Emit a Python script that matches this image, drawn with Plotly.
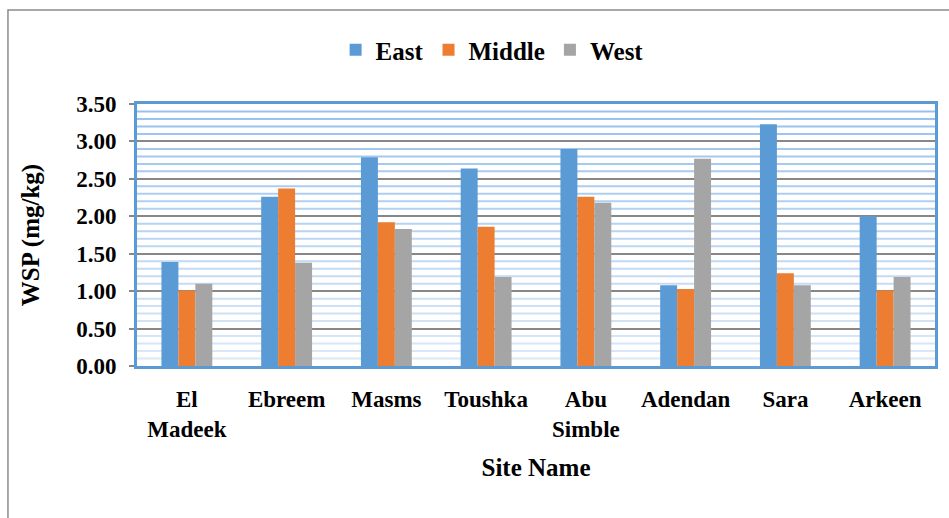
import plotly.graph_objects as go

sites = ["El<br>Madeek", "Ebreem", "Masms", "Toushka", "Abu<br>Simble", "Adendan", "Sara", "Arkeen"]
east = [1.39, 2.26, 2.79, 2.64, 2.90, 1.08, 3.23, 2.00]
middle = [1.01, 2.37, 1.92, 1.86, 2.26, 1.03, 1.24, 1.01]
west = [1.10, 1.38, 1.83, 1.19, 2.18, 2.77, 1.08, 1.19]

series = [("East", east, "#5b9bd5"), ("Middle", middle, "#ed7d31"), ("West", west, "#a5a5a5")]

FONT = "Liberation Serif"

fig = go.Figure()
for name, vals, col in series:
    fig.add_trace(go.Bar(name=name, x=sites, y=vals, marker=dict(color=col, line=dict(width=0))))

# light blue minor band lines (gradient: stronger near top)
shapes = []
for i in range(1, 35):
    if i % 5 == 0:
        continue
    v = i / 10
    t = v / 3.5
    c0 = (222, 234, 248)
    c1 = (150, 192, 238)
    col = "rgb(%d,%d,%d)" % tuple(int(a + (b - a) * t) for a, b in zip(c0, c1))
    shapes.append(dict(type="line", xref="paper", yref="y", x0=0, x1=1, y0=v, y1=v,
                       line=dict(color=col, width=2), layer="below"))
# outer chart frame
shapes.append(dict(type="rect", xref="paper", yref="paper", x0=-0.1617, x1=1.2, y0=-1.0, y1=1.3588,
                   line=dict(color="#8c8c8c", width=1.5), layer="below"))

fig.update_layout(
    width=949, height=518,
    margin=dict(l=137, r=14, t=104, b=152),
    paper_bgcolor="white", plot_bgcolor="white",
    barmode="group", bargap=0.49, bargroupgap=0,
    font=dict(family=FONT, color="black"),
    legend=dict(orientation="h", x=0.445, xanchor="center", y=1.206, yanchor="middle",
                font=dict(family=FONT, size=25, weight="bold"), itemwidth=30,
                traceorder="normal"),
    shapes=shapes,
    showlegend=True,
)

fig.update_yaxes(
    range=[0, 3.5], dtick=0.5, tickformat=".2f",
    showgrid=True, gridcolor="#878787", gridwidth=2,
    zeroline=False,
    showline=True, mirror=True, linecolor="#5b9bd5", linewidth=3,
    ticks="outside", ticklen=5, tickcolor="#878787", tickwidth=2,
    ticklabelstandoff=8,
    tickfont=dict(family=FONT, size=23, weight="bold"),
    title=dict(text="WSP (mg/kg)", font=dict(family=FONT, size=25, weight="bold"), standoff=30),
    layer="below traces",
)
fig.update_xaxes(
    showgrid=False, zeroline=False,
    showline=True, mirror=True, linecolor="#5b9bd5", linewidth=3,
    ticks="", ticklabelstandoff=10,
    tickfont=dict(family=FONT, size=23, weight="bold"),
    tickangle=0,
    title=dict(text="Site Name", font=dict(family=FONT, size=25, weight="bold"), standoff=18),
    layer="below traces",
)

fig.write_html("out.html")
